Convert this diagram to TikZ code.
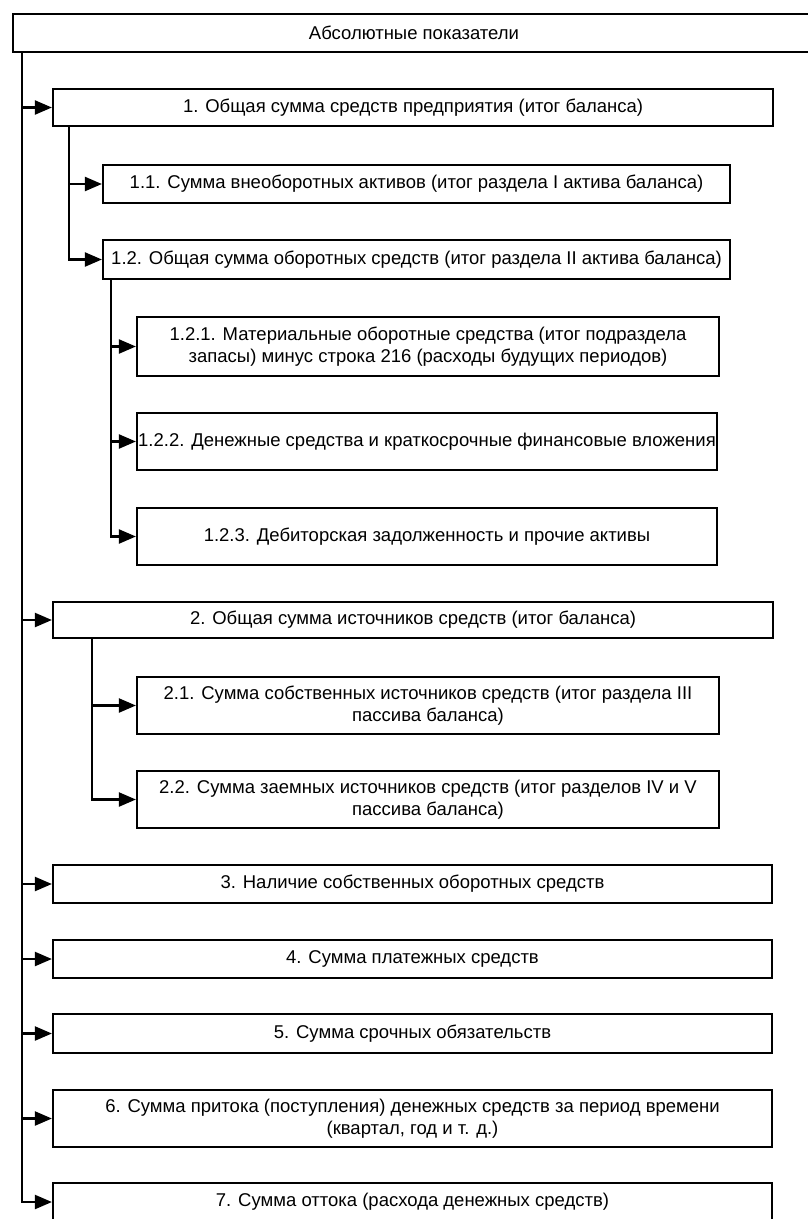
\documentclass[tikz,border=0pt]{standalone}
\usepackage{fontspec}
\setmainfont{Liberation Sans}
\usetikzlibrary{arrows.meta}
\begin{document}
\begin{tikzpicture}[x=1pt,y=-1pt,
  box/.style={draw, line width=2.2pt, inner sep=0pt, align=center,
    font=\fontsize{18.5}{22}\selectfont},
  arr/.style={line width=2.2pt, -{Triangle[length=17pt,width=14pt]}}]
\useasboundingbox (0,0) rectangle (808,1219);
\node[box, minimum width=802pt, minimum height=38pt] (top) at (414,33) {Абсолютные показатели};
\node[box, minimum width=720pt, minimum height=37pt] (b1) at (413,107.5) {1. Общая сумма средств предприятия (итог баланса)};
\node[box, minimum width=627pt, minimum height=38pt] (b11) at (416.5,184) {1.1. Сумма внеоборотных активов (итог раздела I актива баланса)};
\node[box, minimum width=627pt, minimum height=39pt] (b12) at (416.5,259.5) {1.2. Общая сумма оборотных средств (итог раздела II актива баланса)};
\node[box, minimum width=582pt, minimum height=59pt] (b121) at (428,346.5) {1.2.1. Материальные оборотные средства (итог подраздела\\запасы) минус строка 216 (расходы будущих периодов)};
\node[box, minimum width=580pt, minimum height=57pt] (b122) at (427,441.5) {1.2.2. Денежные средства и краткосрочные финансовые вложения};
\node[box, minimum width=580pt, minimum height=57pt] (b123) at (427,536.5) {1.2.3. Дебиторская задолженность и прочие активы};
\node[box, minimum width=720pt, minimum height=36pt] (b2) at (413,620) {2. Общая сумма источников средств (итог баланса)};
\node[box, minimum width=582pt, minimum height=57pt] (b21) at (428,705.5) {2.1. Сумма собственных источников средств (итог раздела III\\пассива баланса)};
\node[box, minimum width=582pt, minimum height=57pt] (b22) at (428,799.5) {2.2. Сумма заемных источников средств (итог разделов IV и V\\пассива баланса)};
\node[box, minimum width=719pt, minimum height=38pt] (b3) at (412.5,884) {3. Наличие собственных оборотных средств};
\node[box, minimum width=719pt, minimum height=38pt] (b4) at (412.5,959) {4. Сумма платежных средств};
\node[box, minimum width=719pt, minimum height=39pt] (b5) at (412.5,1033.5) {5. Сумма срочных обязательств};
\node[box, minimum width=719pt, minimum height=57pt] (b6) at (412.5,1118.5) {6. Сумма притока (поступления) денежных средств за период времени\\(квартал, год и т. д.)};
\node[box, minimum width=719pt, minimum height=38pt] (b7) at (412.5,1202) {7. Сумма оттока (расхода денежных средств)};
% trunk
\coordinate (t0) at (22,52);
\foreach \n in {b1,b2,b3,b4,b5,b6,b7} \draw[arr] (t0) |- (\n.west);
% branch 1
\coordinate (s1) at (69,126);
\foreach \n in {b11,b12} \draw[arr] (s1) |- (\n.west);
% branch 1.2
\coordinate (s12) at (111,279);
\foreach \n in {b121,b122,b123} \draw[arr] (s12) |- (\n.west);
% branch 2
\coordinate (s2) at (92,638);
\foreach \n in {b21,b22} \draw[arr] (s2) |- (\n.west);
\end{tikzpicture}
\end{document}
